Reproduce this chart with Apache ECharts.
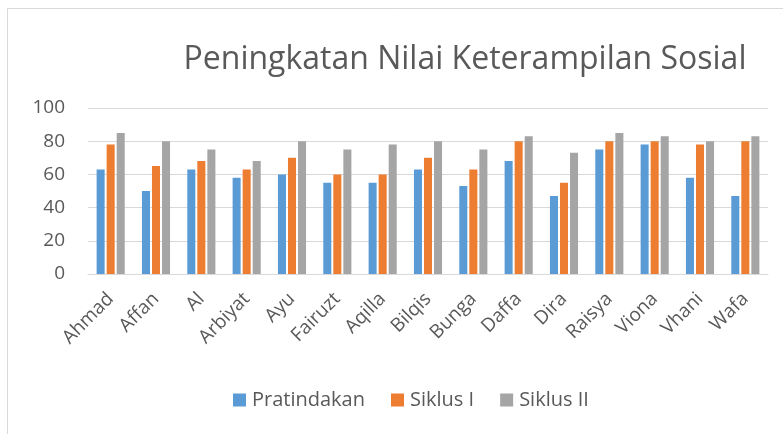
<!DOCTYPE html>
<html><head><meta charset="utf-8">
<script src="https://cdn.jsdelivr.net/npm/echarts@6/dist/echarts.min.js"></script>
<style>html,body{margin:0;padding:0;background:#fff}#c{width:783px;height:434px}</style>
</head><body><div id="c"></div>
<script>
const categories = ["Ahmad","Affan","Al","Arbiyat","Ayu","Fairuzt","Aqilla","Bilqis","Bunga","Daffa","Dira","Raisya","Viona","Vhani","Wafa"];
const pratindakan = [63,50,63,58,60,55,55,63,53,68,47,75,78,58,47];
const siklus1 = [78,65,68,63,70,60,60,70,63,80,55,80,80,78,80];
const siklus2 = [85,80,75,68,80,75,78,80,75,83,73,85,83,80,83];
const seriesNames = ["Pratindakan","Siklus I","Siklus II"];
const yTicks = [0,20,40,60,80,100];
const colors = ["#5B9BD5","#ED7D31","#A5A5A5"];
const font = "'Open Sans', sans-serif";
const chart = echarts.init(document.getElementById('c'), null, {renderer:'canvas'});
const data = [pratindakan, siklus1, siklus2];
chart.setOption({
  animation:false,
  graphic:[{type:'rect',shape:{x:7.5,y:8.5,width:900,height:600},style:{fill:'none',stroke:'#D9D9D9',lineWidth:1},silent:true}],
  title:{text:'Peningkatan Nilai Keterampilan Sosial',left:460,textAlign:'center',top:39,
    textStyle:{fontFamily:font,fontSize:32,fontWeight:'normal',color:'#595959'}},
  legend:{data:seriesNames,bottom:19,left:228,itemWidth:13,itemHeight:13,itemGap:26,icon:'rect',
    textStyle:{fontFamily:font,fontSize:20,color:'#595959',padding:[0,0,0,1]}},
  grid:{left:88,right:15,top:108,bottom:160,containLabel:false},
  xAxis:{type:'category',data:categories,
    axisLine:{lineStyle:{color:'#D9D9D9',width:1}},axisTick:{show:false},
    axisLabel:{rotate:45,fontFamily:font,fontSize:19,color:'#595959',margin:22,interval:0}},
  yAxis:{type:'value',min:yTicks[0],max:yTicks[yTicks.length-1],interval:20,
    axisLine:{show:false},axisTick:{show:false},
    splitLine:{lineStyle:{color:'#D9D9D9',width:1}},
    axisLabel:{fontFamily:font,fontSize:19,color:'#595959',margin:23}},
  series:seriesNames.map((n,i)=>({name:n,type:'bar',data:data[i],barGap:'25%',barCategoryGap:'38%',
    itemStyle:{color:colors[i]}}))
});
</script></body></html>
